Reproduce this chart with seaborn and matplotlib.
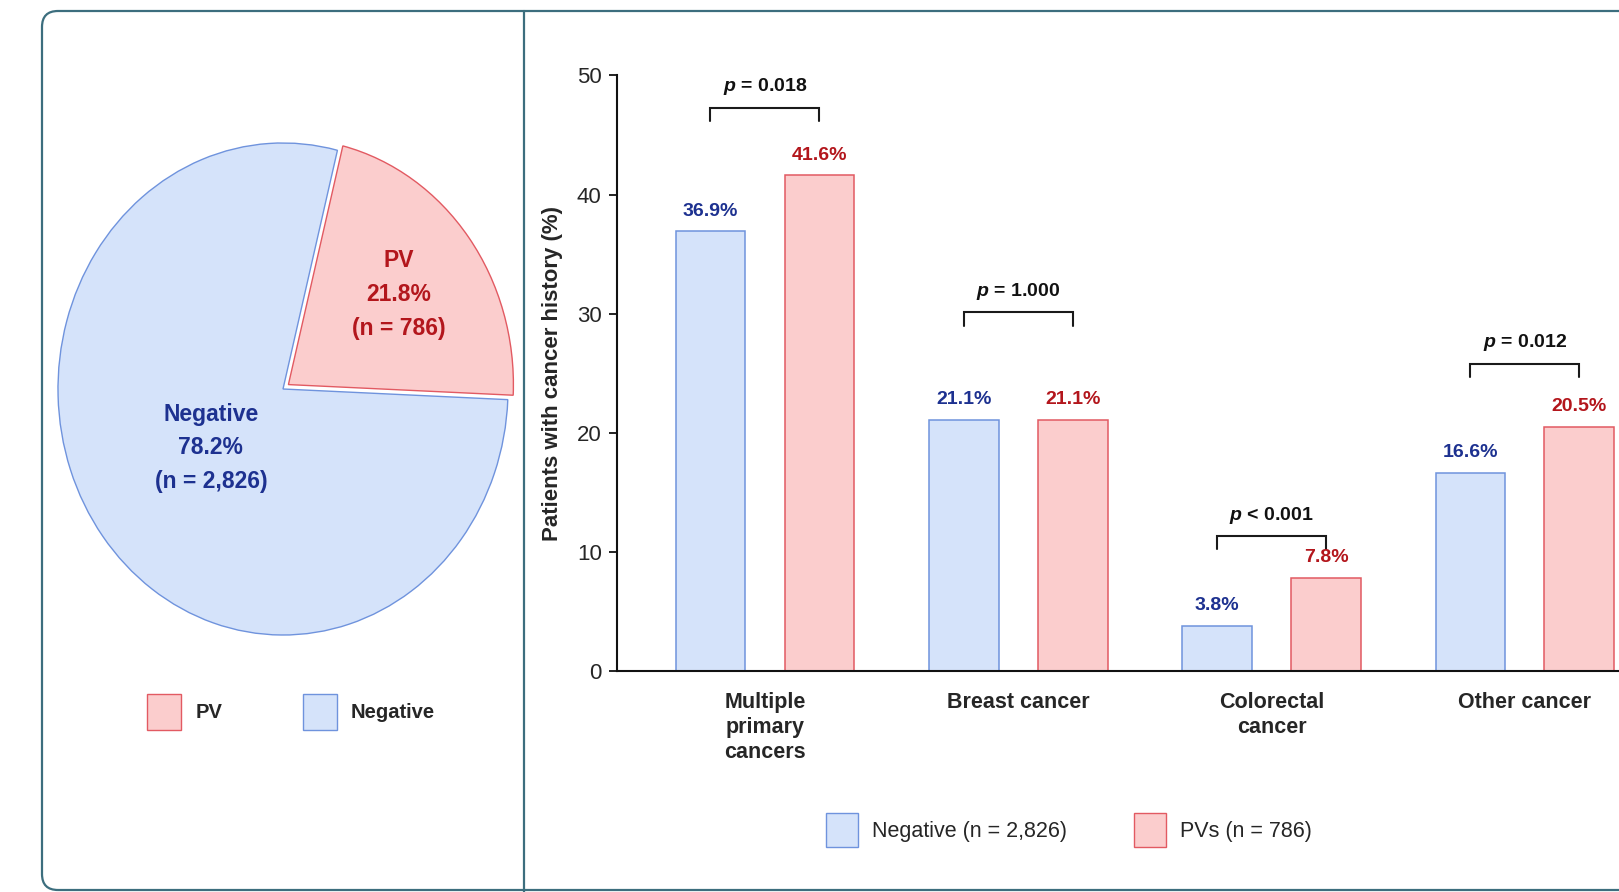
import numpy as np
import pandas as pd
import matplotlib
matplotlib.use("Agg")
import matplotlib.pyplot as plt
import seaborn as sns
from matplotlib.patches import FancyBboxPatch, Patch
from matplotlib.lines import Line2D
from matplotlib.transforms import IdentityTransform

# ---------------- data ----------------
pie_labels = ["PV", "Negative"]
pie_pct = [21.8, 78.2]
pie_n = [786, 2826]

categories = ["Multiple\nprimary\ncancers", "Breast cancer", "Colorectal\ncancer", "Other cancer"]
negative_pct = [36.9, 21.1, 3.8, 16.6]
pv_pct = [41.6, 21.1, 7.8, 20.5]
p_values = ["= 0.018", "= 1.000", "< 0.001", "= 0.012"]
group_names = ["Negative (n = 2,826)", "PVs (n = 786)"]

# ---------------- style ----------------
sns.set_style("ticks")
plt.rcParams["font.family"] = ["Liberation Sans", "DejaVu Sans"]
plt.rcParams["mathtext.fontset"] = "custom"
plt.rcParams["mathtext.rm"] = "Liberation Sans:bold"
plt.rcParams["mathtext.it"] = "Liberation Sans:italic:bold"
plt.rcParams["mathtext.bf"] = "Liberation Sans:bold"

neg_fill, neg_edge, neg_text = "#d5e3fa", "#6f93dd", "#1d3190"
pv_fill, pv_edge, pv_text = "#fbcdcd", "#e25a62", "#b3161c"
frame_col = "#3c6e7e"

W, H = 1619, 892
fig = plt.figure(figsize=(W / 100, H / 100), dpi=100)
fig.patch.set_facecolor("white")

# outer rounded frame and divider
frame = FancyBboxPatch((42, 2), 1700, 879, boxstyle="round,pad=0,rounding_size=16",
                       transform=IdentityTransform(), facecolor="none",
                       edgecolor=frame_col, linewidth=1.6)
fig.patches.append(frame)
fig.add_artist(Line2D([524, 524], [0, H - 11], transform=IdentityTransform(),
                      color=frame_col, linewidth=1.6))

# ---------------- pie ----------------
cx, cy, rx, ry = 283, 389, 225, 246
ax_pie = fig.add_axes([(cx - rx) / W, (H - cy - ry) / H, 2 * rx / W, 2 * ry / H])
wedges, _ = ax_pie.pie(pie_pct, colors=[pv_fill, neg_fill], startangle=76,
                       counterclock=False, explode=[0.03, 0],
                       wedgeprops=dict(linewidth=1.0))
for w, ec in zip(wedges, [pv_edge, neg_edge]):
    w.set_edgecolor(ec)
    w.set_clip_on(False)
ax_pie.set_xlim(-1, 1)
ax_pie.set_ylim(-1, 1)
ax_pie.set_aspect("auto")
ax_pie.axis("off")

for w, lab, pct, n, col, dist in zip(wedges, pie_labels, pie_pct, pie_n,
                                     [pv_text, neg_text], [0.64, 0.40]):
    mid = np.deg2rad((w.theta1 + w.theta2) / 2)
    ax_pie.text(dist * np.cos(mid), dist * np.sin(mid),
                f"{lab}\n{pct:.1f}%\n(n = {n:,})", ha="center", va="center",
                color=col, fontsize=16.5, fontweight="bold", linespacing=1.6)

pie_handles = [Patch(facecolor=pv_fill, edgecolor=pv_edge, linewidth=1.0),
               Patch(facecolor=neg_fill, edgecolor=neg_edge, linewidth=1.0)]
fig.legend(pie_handles, pie_labels, loc="center", bbox_to_anchor=(291 / W, (H - 712) / H),
           ncol=2, frameon=False, handlelength=1.7, handleheight=2.3,
           handletextpad=0.7, columnspacing=4.0,
           prop=dict(size=14.5, weight="bold"))

# ---------------- grouped bars ----------------
df = pd.DataFrame({
    "category": categories * 2,
    "value": negative_pct + pv_pct,
    "group": [group_names[0]] * len(categories) + [group_names[1]] * len(categories),
})

ax = fig.add_axes([617 / W, (H - 671) / H, 1 - 617 / W, (671 - 75.4) / H])
sns.barplot(data=df, x="category", y="value", hue="group", order=categories,
            hue_order=group_names, palette=[neg_fill, pv_fill], width=0.86, gap=0.36,
            linewidth=1.1, legend=False, ax=ax)

fills = [neg_fill, pv_fill]
edges = [neg_edge, pv_edge]
text_cols = [neg_text, pv_text]
centers = []
for k, cont in enumerate(ax.containers):
    xs = []
    for bar in cont:
        bar.set_facecolor(fills[k])
        bar.set_edgecolor(edges[k])
        xc = bar.get_x() + bar.get_width() / 2
        xs.append(xc)
        h = bar.get_height()
        ax.text(xc, h + 1.0, f"{h:.1f}%", ha="center", va="bottom",
                color=text_cols[k], fontsize=14, fontweight="bold")
    centers.append(xs)

# significance brackets
bracket_y = [47.3, 30.1, 11.3, 25.8]
leg = 1.1
for i, (pv_txt, yb) in enumerate(zip(p_values, bracket_y)):
    x0, x1 = centers[0][i], centers[1][i]
    ax.plot([x0, x0, x1, x1], [yb - leg, yb, yb, yb - leg], color="#1a1a1a",
            linewidth=1.5, clip_on=False, solid_joinstyle="miter")
    ax.text((x0 + x1) / 2, yb + 0.9, r"$\it{p}$ " + pv_txt, ha="center", va="bottom",
            fontsize=14, fontweight="bold", color="#111111")

ax.set_ylim(0, 50)
ax.set_xlim(-0.584, 3.3715)
ax.set_yticks([0, 10, 20, 30, 40, 50])
ax.set_xlabel("")
ax.set_ylabel("Patients with cancer history (%)", fontsize=16, fontweight="bold",
              labelpad=10)
ax.tick_params(axis="y", labelsize=16, length=6, width=1.3, pad=5, color="#111111")
ax.tick_params(axis="x", length=0, pad=15)
for lab in ax.get_xticklabels():
    lab.set_fontsize(15.5)
    lab.set_fontweight("bold")
    lab.set_linespacing(1.25)
    lab.set_verticalalignment("top")
sns.despine(ax=ax, right=True, top=True)
for s in ["left", "bottom"]:
    ax.spines[s].set_linewidth(1.5)
    ax.spines[s].set_color("#111111")
ax.set_facecolor("none")

bar_handles = [Patch(facecolor=neg_fill, edgecolor=neg_edge, linewidth=1.0),
               Patch(facecolor=pv_fill, edgecolor=pv_edge, linewidth=1.0)]
fig.legend(bar_handles, group_names, loc="center", bbox_to_anchor=(1069 / W, (H - 830) / H),
           ncol=2, frameon=False, handlelength=1.5, handleheight=2.0,
           handletextpad=0.65, columnspacing=3.1, prop=dict(size=15.5))

fig.savefig("out.png", dpi=100, facecolor="white")
